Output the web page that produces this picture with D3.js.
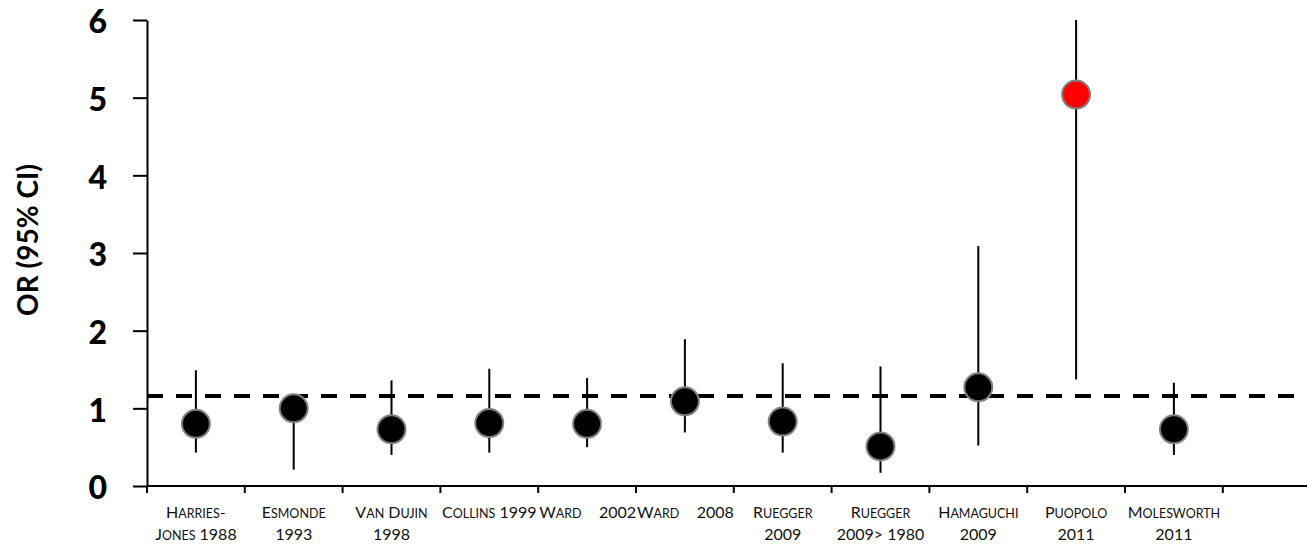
<!DOCTYPE html>
<html>
<head>
<meta charset="utf-8">
<script src="https://cdn.jsdelivr.net/npm/d3@7"></script>
<style>
  html, body { margin: 0; padding: 0; background: #fff; }
  svg { display: block; }
  text { font-family: Lato, "Open Sans", sans-serif; }
  .sc { text-transform: uppercase; }
</style>
</head>
<body>
<svg id="chart" width="1307" height="545"></svg>
<script>
// ---- data ----
const studies = ["Harries-Jones 1988", "Esmonde 1993", "Van Dujin 1998", "Collins 1999", "Ward 2002",
  "Ward 2008", "Ruegger 2009", "Ruegger 2009> 1980", "Hamaguchi 2009", "Puopolo 2011", "Molesworth 2011"];
const labelLines = [["Harries-", "Jones 1988"], ["Esmonde", "1993"], ["Van Dujin", "1998"], ["Collins 1999"],
  ["Ward 2002"], ["Ward 2008"], ["Ruegger", "2009"], ["Ruegger", "2009> 1980"], ["Hamaguchi", "2009"],
  ["Puopolo", "2011"], ["Molesworth", "2011"]];
const justifiedLabels = ["Ward 2002", "Ward 2008"];
const orValues = [0.80, 1.00, 0.73, 0.81, 0.80, 1.09, 0.83, 0.51, 1.27, 5.04, 0.73];
const ciLower = [0.43, 0.21, 0.40, 0.43, 0.50, 0.69, 0.43, 0.17, 0.52, 1.37, 0.40];
const ciUpper = [1.49, 1.02, 1.36, 1.51, 1.39, 1.89, 1.58, 1.54, 3.09, 6.00, 1.33];
const highlighted = ["Puopolo 2011"];
const pooledOR = 1.16;
const yTicks = [0, 1, 2, 3, 4, 5, 6];
const yTitle = "OR (95% CI)";

// ---- layout ----
const svg = d3.select("#chart");
const W = 1307;
const x0 = 147, bandW = 97.8;
const x = d3.scaleBand().domain(studies).range([x0, x0 + studies.length * bandW]).padding(0);
const y = d3.scaleLinear().domain([0, 6]).range([486, 20]);

// y axis
const yAxis = svg.append("g").attr("transform", `translate(${x0},0)`)
  .call(d3.axisLeft(y).tickValues(yTicks).tickFormat(d3.format("d")).tickSize(14).tickPadding(26).tickSizeOuter(0));
yAxis.select(".domain").attr("stroke", "#000").attr("stroke-width", 2);
yAxis.selectAll(".tick line").attr("stroke", "#000").attr("stroke-width", 2);
yAxis.selectAll(".tick text").attr("font-size", 32).attr("font-weight", 900).attr("fill", "#000")
  .attr("dy", "0.4em")
  .attr("font-family", "Lato, 'Open Sans', sans-serif");

// y title
svg.append("text")
  .attr("transform", `translate(38,240) rotate(-90)`)
  .attr("text-anchor", "middle")
  .attr("font-size", 28).attr("font-weight", 700).attr("fill", "#000")
  .text(yTitle);

// x axis line (extends to right edge)
svg.append("line").attr("x1", x0).attr("x2", W).attr("y1", y(0)).attr("y2", y(0))
  .attr("stroke", "#000").attr("stroke-width", 2);
// x ticks at band boundaries
const boundaries = studies.map(s => x(s)).concat([x(studies[studies.length - 1]) + x.bandwidth()]);
svg.append("g").selectAll("line").data(boundaries).join("line")
  .attr("x1", d => d).attr("x2", d => d)
  .attr("y1", y(0)).attr("y2", y(0) + 7)
  .attr("stroke", "#000").attr("stroke-width", 2);

// small-caps helper: lowercase runs rendered as smaller uppercase
function smallCaps(textSel, str) {
  const runs = [];
  for (const ch of str) {
    const lower = ch !== ch.toUpperCase();
    if (runs.length && runs[runs.length - 1].lower === lower) runs[runs.length - 1].s += ch;
    else runs.push({ lower, s: ch });
  }
  runs.forEach(r => {
    const t = textSel.append("tspan").text(r.s);
    if (r.lower) t.attr("class", "sc").attr("font-size", 12.5);
  });
}

// x labels
const lab = svg.append("g").attr("font-size", 16).attr("fill", "#111");
studies.forEach((s, i) => {
  const lines = labelLines[i];
  const bx = x(s), bw = x.bandwidth();
  lines.forEach((ln, j) => {
    const yy = 517.5 + j * 22.5;
    if (justifiedLabels.includes(ln)) {
      const words = ln.split(" ");
      smallCaps(lab.append("text").attr("x", bx + 1).attr("y", yy).attr("text-anchor", "start"), words[0]);
      smallCaps(lab.append("text").attr("x", bx + bw).attr("y", yy).attr("text-anchor", "end"), words.slice(1).join(" "));
    } else {
      smallCaps(lab.append("text").attr("x", bx + bw / 2).attr("y", yy).attr("text-anchor", "middle"), ln);
    }
  });
});

// dashed pooled line
svg.append("line").attr("x1", x0).attr("x2", W).attr("y1", y(pooledOR)).attr("y2", y(pooledOR))
  .attr("stroke", "#000").attr("stroke-width", 4).attr("stroke-dasharray", "16,13");

// error bars
svg.append("g").selectAll("line").data(studies).join("line")
  .attr("x1", d => x(d) + x.bandwidth() / 2).attr("x2", d => x(d) + x.bandwidth() / 2)
  .attr("y1", (d, i) => y(ciLower[i])).attr("y2", (d, i) => y(ciUpper[i]))
  .attr("stroke", "#000").attr("stroke-width", 2);

// points
svg.append("g").selectAll("circle").data(studies).join("circle")
  .attr("cx", d => x(d) + x.bandwidth() / 2)
  .attr("cy", (d, i) => y(orValues[i]))
  .attr("r", 14)
  .attr("fill", d => highlighted.includes(d) ? "#ff0000" : "#000")
  .attr("stroke", "#808080").attr("stroke-width", 2);
</script>
</body>
</html>
